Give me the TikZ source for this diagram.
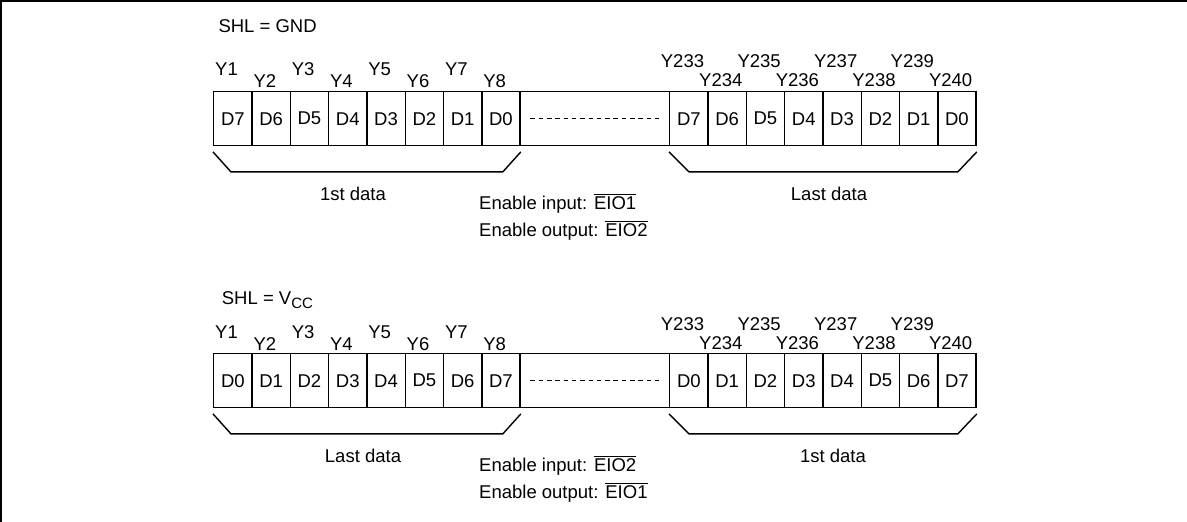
\documentclass[tikz,border=0pt]{standalone}
\usepackage{fontspec}
\setmainfont{Liberation Sans}
\newcommand\ovbar[1]{\leavevmode\vbox{\hrule height 1.1pt\kern 1.6pt\hbox{#1}}}
\begin{document}
\begin{tikzpicture}[x=1pt,y=-1pt,
  every node/.style={font=\fontsize{18.5}{22}\selectfont, inner sep=0pt},
  cell/.style={draw, line width=1.4pt, minimum width=38.3pt, minimum height=54pt, anchor=north west},
  gapbox/.style={draw, line width=1.4pt, minimum width=149.6pt, minimum height=54pt, anchor=north west},
  dots/.style={line width=1.3pt, dash pattern=on 4.5pt off 3.8pt},
  frame/.style={line width=2pt},
  brace/.style={line width=1.4pt},
  lw/.style={anchor=base west},
  le/.style={anchor=base east},
  lc/.style={anchor=base}]
\useasboundingbox (0,0) rectangle (1187,522);
\draw[frame] (0,1) -- (1187,1);
\draw[frame] (1,0) -- (1,522);
% ---------- row 1 : SHL = GND
\node[lw] (shl1) at (218.3,32.3) {SHL = GND};
\foreach \i/\t in {1/D7,2/D6,3/D5,4/D4,5/D3,6/D2,7/D1,8/D0}
  \node[cell] (p\i) at ({213+(\i-1)*38.3},91) {\t};
\node[gapbox] (pg) at (519.4,91) {};
\draw[dots] ([xshift=11pt]pg.west) -- ([xshift=-11pt]pg.east);
\foreach \i/\t in {1/D7,2/D6,3/D5,4/D4,5/D3,6/D2,7/D1,8/D0}
  \node[cell] (q\i) at ({669+(\i-1)*38.3},91) {\t};
\foreach \i in {1,3,5,7}
  \node[lw] (py\i) at ({215+(\i-1)*38.3},75) {Y\i};
\foreach \i in {2,4,6,8}
  \node[lw] (py\i) at ({215+(\i-1)*38.3},87) {Y\i};
\foreach \i/\n in {1/233,3/235,5/237,7/239}
  \node[le] (qy\i) at ({669+\i*38.3-3},67) {Y\n};
\foreach \i/\n in {2/234,4/236,6/238,8/240}
  \node[le] (qy\i) at ({669+\i*38.3-3},86.5) {Y\n};
\draw[brace] ([yshift=-5.5pt]p1.south west) -- ++(18,20)
  -- ([shift={(-18pt,-25.5pt)}]p8.south east) -- ([yshift=-5.5pt]p8.south east);
\draw[brace] ([yshift=-5.5pt]q1.south west) -- ++(20,20)
  -- ([shift={(-19pt,-25.5pt)}]q8.south east) -- ([yshift=-5.5pt]q8.south east);
\node[lc] (d1a) at (353,200) {1st data};
\node[lc] (d1b) at (829,200) {Last data};
\node[lw] (en1a) at (479,209.5) {Enable input: \ovbar{EIO1}};
\node[lw] (en1b) at (479,236.5) {Enable output: \ovbar{EIO2}};
% ---------- row 2 : SHL = VCC
\node[lw] (shl2) at (221.7,304.3) {SHL = V\raisebox{-4.5pt}{\fontsize{15}{15}\selectfont CC}};
\foreach \i/\t in {1/D0,2/D1,3/D2,4/D3,5/D4,6/D5,7/D6,8/D7}
  \node[cell] (r\i) at ({213+(\i-1)*38.3},353) {\t};
\node[gapbox] (rg) at (519.4,353) {};
\draw[dots] ([xshift=11pt]rg.west) -- ([xshift=-11pt]rg.east);
\foreach \i/\t in {1/D0,2/D1,3/D2,4/D3,5/D4,6/D5,7/D6,8/D7}
  \node[cell] (s\i) at ({669+(\i-1)*38.3},353) {\t};
\foreach \i in {1,3,5,7}
  \node[lw] (ry\i) at ({215+(\i-1)*38.3},338) {Y\i};
\foreach \i in {2,4,6,8}
  \node[lw] (ry\i) at ({215+(\i-1)*38.3},350) {Y\i};
\foreach \i/\n in {1/233,3/235,5/237,7/239}
  \node[le] (sy\i) at ({669+\i*38.3-3},330) {Y\n};
\foreach \i/\n in {2/234,4/236,6/238,8/240}
  \node[le] (sy\i) at ({669+\i*38.3-3},349.3) {Y\n};
\draw[brace] ([yshift=-5.5pt]r1.south west) -- ++(18,20)
  -- ([shift={(-18pt,-25.5pt)}]r8.south east) -- ([yshift=-5.5pt]r8.south east);
\draw[brace] ([yshift=-5.5pt]s1.south west) -- ++(20,20)
  -- ([shift={(-19pt,-25.5pt)}]s8.south east) -- ([yshift=-5.5pt]s8.south east);
\node[lc] (d2a) at (363,462) {Last data};
\node[lc] (d2b) at (833,462) {1st data};
\node[lw] (en2a) at (479,471.5) {Enable input: \ovbar{EIO2}};
\node[lw] (en2b) at (479,498.5) {Enable output: \ovbar{EIO1}};
\end{tikzpicture}
\end{document}
